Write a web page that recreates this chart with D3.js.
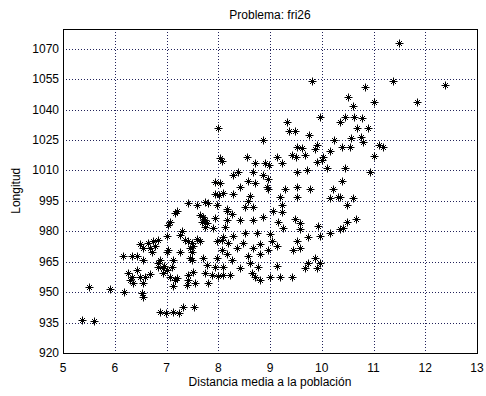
<!DOCTYPE html>
<html>
<head>
<meta charset="utf-8">
<script src="https://cdn.jsdelivr.net/npm/d3@7"></script>
<style>
    body { margin: 0; background: #fff; }
    text { font-family: "Liberation Sans", Arial, sans-serif; fill: #000; }
    .grid line { stroke: #22225a; stroke-dasharray: 1,2; shape-rendering: crispEdges; }
    .mark { stroke: #000; stroke-width: 1; fill: none; }
</style>
</head>
<body>
<div id="chart"></div>
<script>

const title = "Problema: fri26";
const xLabel = "Distancia media a la población";
const yLabel = "Longitud";

const xTicks = [5, 6, 7, 8, 9, 10, 11, 12, 13];
const yTicks = [920, 935, 950, 965, 980, 995, 1010, 1025, 1040, 1055, 1070];

// distancia media (x) y longitud (y)
const distancia = [
    11.49, 11.38, 12.38, 10.84, 10.51, 10.60, 11.00, 11.84, 9.81, 10.45,
    10.62, 10.78, 10.35, 10.68, 10.89, 10.57, 10.76, 10.80, 10.39, 10.55,
    11.11, 11.18, 11.00, 10.45, 10.93, 10.39, 10.35, 10.60, 10.49, 10.49,
    10.66, 10.41, 10.35, 10.24, 9.97, 9.33, 9.37, 9.48, 9.75, 8.00,
    8.86, 9.52, 9.62, 9.91, 9.87, 9.43, 9.50, 9.68, 10.02, 10.16,
    8.56, 9.14, 8.03, 9.23, 8.71, 8.90, 8.98, 8.07, 9.91, 10.00,
    10.10, 9.52, 9.71, 8.29, 8.38, 8.67, 8.86, 8.96, 8.57, 8.71,
    8.94, 8.96, 8.42, 9.29, 9.52, 9.77, 10.22, 8.03, 7.94, 9.52,
    9.19, 10.16, 10.31, 8.09, 8.29, 8.61, 8.57, 8.52, 8.67, 8.17,
    9.23, 9.06, 9.23, 8.27, 8.13, 8.42, 8.67, 8.86, 9.15, 9.48,
    9.58, 9.93, 9.25, 9.58, 9.73, 9.97, 10.16, 8.29, 8.52, 8.75,
    9.00, 9.04, 9.14, 9.52, 9.58, 8.09, 8.19, 8.36, 8.48, 8.67,
    8.81, 8.96, 8.07, 8.17, 8.57, 8.81, 8.27, 8.61, 8.77, 8.42,
    9.14, 9.73, 9.87, 9.97, 9.91, 8.09, 8.09, 8.23, 8.65, 8.71,
    9.00, 9.19, 9.43, 9.68, 9.44, 7.51, 7.74, 7.88, 8.00, 7.55,
    7.80, 8.81, 7.53, 7.94, 8.01, 7.42, 7.59, 7.74, 7.80, 7.98,
    7.20, 7.16, 7.65, 7.71, 7.74, 7.69, 7.78, 7.94, 8.17, 8.17,
    7.07, 7.03, 7.74, 7.90, 7.01, 7.30, 7.26, 7.36, 7.42, 7.49,
    7.51, 7.65, 7.45, 6.84, 6.74, 6.64, 6.78, 6.68, 6.72, 6.49,
    6.55, 7.03, 7.01, 7.26, 7.49, 7.98, 8.07, 6.16, 6.33, 6.43,
    6.55, 6.87, 7.13, 7.49, 7.71, 7.98, 6.84, 6.93, 7.01, 7.11,
    7.78, 7.94, 6.43, 6.26, 6.33, 6.49, 6.58, 6.68, 6.93, 7.07,
    7.20, 7.42, 6.29, 6.35, 6.55, 7.16, 7.42, 7.40, 7.13, 5.91,
    6.18, 6.53, 6.55, 5.50, 5.37, 5.60, 6.87, 6.99, 7.13, 7.24,
    7.32, 7.59, 6.84, 6.95, 7.45
];

const longitud = [
    1073, 1054, 1052, 1051, 1046, 1042, 1044, 1044, 1054, 1036.5,
    1036.5, 1036, 1034, 1031, 1031, 1026, 1026.5, 1024, 1021.5, 1021.5,
    1022.5, 1021.5, 1017, 1011, 1009, 1005, 997, 996.5, 993, 984.5,
    986, 981.5, 981, 1025, 1036.5, 1034, 1029.5, 1029.5, 1027.5, 1031,
    1025, 1021.5, 1021, 1022.5, 1020.5, 1017.5, 1016.5, 1017.5, 1016.5, 1019.5,
    1016.5, 1016.5, 1016, 1013.5, 1013.5, 1013.5, 1012.5, 1014.5, 1014, 1015,
    1011, 1009, 1010, 1008, 1009, 1009, 1008, 1006, 1005, 1004,
    1002, 1001, 1002, 1001, 1002, 1001, 1001, 1004, 1004.5, 997,
    997, 996.5, 997, 999, 998.5, 997.5, 995, 992, 992, 991,
    993, 990, 989.5, 988.5, 982, 985.5, 985.5, 987, 984.5, 986,
    984, 982.5, 981.5, 981, 977, 977.5, 979, 977.5, 979, 979,
    978.5, 975, 973, 975, 972, 977, 974, 972, 974, 972,
    973.5, 971, 971, 969, 968, 969, 966, 964.5, 962.5, 962,
    963, 964.5, 967, 964.5, 962, 962.5, 958.5, 958.5, 959.5, 957.5,
    957.5, 957.5, 957.5, 962, 971, 960, 959.5, 958.5, 958, 954.5,
    954.5, 956, 942.5, 998.5, 998, 994, 993, 994.5, 994, 993,
    990, 989, 988, 987, 985.5, 984.5, 984, 986.5, 990, 985.5,
    984.5, 983, 982, 981.5, 977.5, 980, 978, 975.5, 975, 974,
    973, 975, 972, 975.5, 975, 974, 973, 972, 970, 973.5,
    972, 971, 970, 970, 970, 975, 975.5, 968, 968, 968,
    966, 966, 966, 966, 967, 967, 962.5, 962, 961, 962.5,
    963.5, 962.5, 961, 959.5, 957.5, 957.5, 957.5, 959, 959.5, 957.5,
    957, 958.5, 956, 954.5, 954.5, 956, 956, 953.5, 953, 951.5,
    950, 949.5, 947.5, 952.5, 936.5, 936, 940, 939.5, 940, 939.5,
    942.5, 976, 964.5, 963, 967
];

const width = 486, height = 396;
const margin = { top: 28.5, right: 9, bottom: 43, left: 63 };

const svg = d3.select("#chart")
    .append("svg")
        .attr("width", width)
        .attr("height", height);

const x = d3.scaleLinear()
    .domain([5, 13])
    .range([margin.left, width - margin.right]);

const y = d3.scaleLinear()
    .domain([920, 1080])
    .range([height - margin.bottom, margin.top]);

const px = v => Math.round(x(v)) + 0.5;
const py = v => Math.round(y(v)) + 0.5;

// rejilla punteada
const grid = svg.append("g").classed("grid", true);
grid.selectAll("line.gx")
    .data(xTicks.slice(1, -1))
    .enter().append("line")
        .classed("gx", true)
        .attr("x1", d => px(d)).attr("x2", d => px(d))
        .attr("y1", y.range()[1]).attr("y2", y.range()[0]);
grid.selectAll("line.gy")
    .data(yTicks.slice(1))
    .enter().append("line")
        .classed("gy", true)
        .attr("y1", d => py(d)).attr("y2", d => py(d))
        .attr("x1", x.range()[0]).attr("x2", x.range()[1]);

// caja de ejes
svg.append("rect")
    .attr("x", px(5)).attr("y", py(1080))
    .attr("width", px(13) - px(5)).attr("height", py(920) - py(1080))
    .attr("fill", "none").attr("stroke", "#000")
    .attr("shape-rendering", "crispEdges");

// etiquetas de los ticks
svg.selectAll("text.xt")
    .data(xTicks)
    .enter().append("text")
        .classed("xt", true)
        .attr("x", d => x(d))
        .attr("y", height - margin.bottom + 19)
        .attr("text-anchor", "middle")
        .attr("font-size", 12)
        .text(d => d);

svg.selectAll("text.yt")
    .data(yTicks)
    .enter().append("text")
        .classed("yt", true)
        .attr("x", margin.left - 4)
        .attr("y", d => y(d) + 4)
        .attr("text-anchor", "end")
        .attr("font-size", 12)
        .text(d => d);

svg.append("text")
    .attr("x", (x.range()[0] + x.range()[1]) / 2)
    .attr("y", 19)
    .attr("text-anchor", "middle")
    .attr("font-size", 12)
    .text(title);

svg.append("text")
    .attr("x", (x.range()[0] + x.range()[1]) / 2)
    .attr("y", height - 10)
    .attr("text-anchor", "middle")
    .attr("font-size", 12)
    .text(xLabel);

svg.append("text")
    .attr("transform", `translate(20, ${(y.range()[0] + y.range()[1]) / 2}) rotate(-90)`)
    .attr("text-anchor", "middle")
    .attr("font-size", 12)
    .text(yLabel);

// marcadores '*'
const star = "M-4,0H4M0,-4V4M-2.5,-2.5L2.5,2.5M-2.5,2.5L2.5,-2.5";
svg.selectAll("path.mark")
    .data(d3.zip(distancia, longitud))
    .enter().append("path")
        .classed("mark", true)
        .attr("d", star)
        .attr("transform", d => `translate(${Math.round(x(d[0])) + 0.5}, ${Math.round(y(d[1])) + 0.5})`);

</script>
</body>
</html>
